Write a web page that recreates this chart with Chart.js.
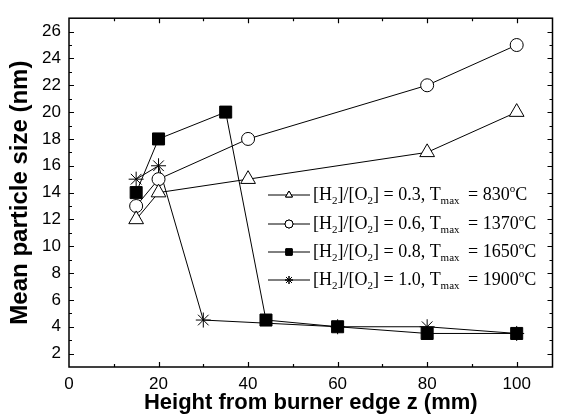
<!DOCTYPE html>
<html>
<head>
<meta charset="utf-8">
<script src="https://cdn.jsdelivr.net/npm/chart.js@4.4.1/dist/chart.umd.min.js"></script>
<style>
  body { margin: 0; background: #fff; }
</style>
</head>
<body>
<canvas id="chart" width="562" height="419"></canvas>
<script>
// data
const z03 = [15, 20, 40, 80, 100];
const size03 = [12, 14, 15, 17, 20];
const z06 = [15, 20, 40, 80, 100];
const size06 = [13, 15, 18, 22, 25];
const z08 = [15, 20, 35, 44, 60, 80, 100];
const size08 = [14, 18, 20, 4.5, 4, 3.5, 3.5];
const z10 = [15, 20, 30, 60, 80, 100];
const size10 = [15, 16, 4.5, 4, 4, 3.5];

const xTickValues = [0, 10, 20, 30, 40, 50, 60, 70, 80, 90, 100];
const yTickValues = [2, 3, 4, 5, 6, 7, 8, 9, 10, 11, 12, 13, 14, 15, 16, 17, 18, 19, 20, 21, 22, 23, 24, 25, 26];

const ratios = ['0.3', '0.6', '0.8', '1.0'];
const tmax = ['830', '1370', '1650', '1900'];
const markers = ['triangle', 'circle', 'rect', 'star'];
const filled = [false, false, true, false];
const markerSize = [8.5, 6.5, 8.5, 7.5];

const toPoints = (xs, ys) => xs.map((x, i) => ({ x, y: ys[i] }));
const series = [toPoints(z03, size03), toPoints(z06, size06), toPoints(z08, size08), toPoints(z10, size10)];

const datasets = series.map((pts, i) => ({
  label: ratios[i],
  data: pts,
  showLine: true,
  borderColor: '#000',
  borderWidth: 1,
  pointStyle: markers[i],
  pointRadius: markerSize[i],
  pointBorderWidth: 1,
  pointBorderColor: '#000',
  pointBackgroundColor: filled[i] ? '#000' : '#fff'
}));

// inward ticks on all four sides + the frame
const framePlugin = {
  id: 'frame',
  afterDraw(chart) {
    const ctx = chart.ctx;
    const { left, right, top, bottom } = chart.chartArea;
    const xs = chart.scales.x, ys = chart.scales.y;
    ctx.save();
    ctx.strokeStyle = '#000';
    ctx.lineWidth = 1.5;
    ctx.strokeRect(left, top, right - left, bottom - top);
    ctx.lineWidth = 1.2;
    ctx.beginPath();
    xs.ticks.forEach(t => {
      if (t.value === 0) return;
      const px = Math.round(xs.getPixelForValue(t.value)) + 0.5;
      const len = t.value % 20 === 0 ? 5 : 3;
      ctx.moveTo(px, bottom); ctx.lineTo(px, bottom - len);
      ctx.moveTo(px, top); ctx.lineTo(px, top + len);
    });
    ys.ticks.forEach(t => {
      const py = Math.round(ys.getPixelForValue(t.value)) + 0.5;
      const len = t.value % 2 === 0 ? 5 : 3;
      ctx.moveTo(left, py); ctx.lineTo(left + len, py);
      ctx.moveTo(right, py); ctx.lineTo(right - len, py);
    });
    ctx.stroke();
    ctx.restore();
  }
};

// legend with sub/superscripts, drawn inside the plot
const legendPlugin = {
  id: 'subLegend',
  afterDraw(chart) {
    const ctx = chart.ctx;
    const x0 = 268, rowY = [195, 224, 252, 280];
    ctx.save();
    ratios.forEach((r, i) => {
      const y = rowY[i];
      ctx.strokeStyle = '#000';
      ctx.lineWidth = 1;
      ctx.beginPath();
      ctx.moveTo(x0, y); ctx.lineTo(x0 + 42, y);
      ctx.stroke();
      Chart.helpers.drawPoint(ctx, {
        pointStyle: markers[i],
        radius: i === 2 ? 4.5 : 4,
        borderWidth: 1,
        rotation: 0
      }, x0 + 21, y);
      ctx.fillStyle = filled[i] ? '#000' : '#fff';
      if (filled[i] || markers[i] !== 'star') ctx.fill();
      ctx.stroke();

      const parts = [
        ['[H'], ['2', 'sub'], [']/[O'], ['2', 'sub'], [`] = ${r}, T`], ['max', 'sub'],
        [` = ${tmax[i]}`], ['o', 'sup'], ['C']
      ];
      let x = x0 + 45;
      ctx.fillStyle = '#000';
      ctx.textBaseline = 'middle';
      parts.forEach(([t, kind]) => {
        let dy = 0;
        if (kind === 'sub') { ctx.font = '11px "Liberation Serif"'; dy = 6; }
        else if (kind === 'sup') { ctx.font = '11px "Liberation Serif"'; dy = -6; }
        else ctx.font = '18px "Liberation Serif"';
        ctx.fillText(t, x, y + dy);
        x += ctx.measureText(t).width;
        if (kind === 'sub' && t === 'max') x += 4;
      });
    });
    ctx.restore();
  }
};

const tickFont = { family: '"Liberation Sans", Arial', size: 17 };

new Chart(document.getElementById('chart'), {
  type: 'scatter',
  data: { datasets },
  options: {
    responsive: false,
    animation: false,
    devicePixelRatio: 1,
    layout: { padding: { top: 12, right: 5, left: 0, bottom: 0 } },
    plugins: { legend: { display: false }, tooltip: { enabled: false } },
    scales: {
      x: {
        type: 'linear',
        min: 0,
        max: 108,
        grid: { display: false, drawTicks: false },
        border: { display: false },
        afterBuildTicks: scale => { scale.ticks = xTickValues.map(v => ({ value: v })); },
        ticks: {
          autoSkip: false,
          maxRotation: 0,
          padding: 7,
          color: '#000',
          font: tickFont,
          callback: v => (v % 20 === 0 ? String(v) : '')
        },
        title: {
          display: true,
          text: 'Height from burner edge z (mm)',
          color: '#000',
          font: { family: '"Liberation Sans", Arial', size: 22, weight: 'bold' },
          padding: { top: 0, bottom: 3 }
        },
        afterFit: scale => { scale.height = 52; }
      },
      y: {
        type: 'linear',
        min: 1,
        max: 27,
        grid: { display: false, drawTicks: false },
        border: { display: false },
        afterBuildTicks: scale => { scale.ticks = yTickValues.map(v => ({ value: v })); },
        ticks: {
          autoSkip: false,
          padding: 8,
          color: '#000',
          font: tickFont,
          callback: v => (v % 2 === 0 ? String(v) : '')
        },
        title: {
          display: true,
          text: 'Mean particle size (nm)',
          color: '#000',
          font: { family: '"Liberation Sans", Arial', size: 24, weight: 'bold' },
          padding: { top: 6, bottom: 0 }
        },
        afterFit: scale => { scale.width = 69; }
      }
    }
  },
  plugins: [framePlugin, legendPlugin]
});
</script>
</body>
</html>
